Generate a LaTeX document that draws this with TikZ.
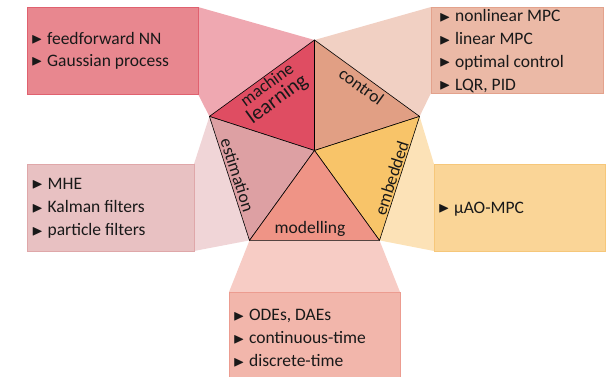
\documentclass[tikz,border=0pt]{standalone}
\usepackage{fontspec}
\setmainfont{Carlito}
\usepackage{amssymb}
\definecolor{mlT}{HTML}{DF4D62}
\definecolor{mlZ}{HTML}{EFA8B1}
\definecolor{mlB}{HTML}{E8878F}
\definecolor{mlD}{HTML}{E0616F}
\definecolor{ctT}{HTML}{E19F84}
\definecolor{ctZ}{HTML}{F1D0C3}
\definecolor{ctB}{HTML}{EBB9A6}
\definecolor{ctD}{HTML}{E3A28C}
\definecolor{esT}{HTML}{DDA0A3}
\definecolor{esZ}{HTML}{F0D5D7}
\definecolor{esB}{HTML}{E8C1C2}
\definecolor{esD}{HTML}{DFA7A9}
\definecolor{emT}{HTML}{F8C469}
\definecolor{emZ}{HTML}{FCE2B7}
\definecolor{emB}{HTML}{FAD597}
\definecolor{emD}{HTML}{F6C77A}
\definecolor{moT}{HTML}{EF9486}
\definecolor{moZ}{HTML}{F7CCC5}
\definecolor{moB}{HTML}{F2B6AB}
\definecolor{moD}{HTML}{EC9C90}
\newcommand{\tribul}{\raisebox{0.02em}{\scalebox{0.85}{$\blacktriangleright$}}\hspace{0.25em}}
\begin{document}
\begin{tikzpicture}[x=1pt,y=-1pt,
  wedge/.style={fill=#1, draw=black, line width=0.6pt, line join=round},
  boxstyle/.style={line width=0.7pt},
  itemtext/.style={anchor=base west, inner sep=0pt, align=left, text=black!90},
  lab/.style={inner sep=0pt, align=center, font=\fontsize{17.5}{17.5}\selectfont, text=black!90}]
\useasboundingbox (0,0) rectangle (606,376);
\clip (0,0) rectangle (606,376);
% pentagon vertices
\coordinate (T) at (314.5,40);
\coordinate (L) at (209.4,116.4);
\coordinate (R) at (419.6,116.4);
\coordinate (BL) at (249.5,240.4);
\coordinate (BR) at (379.5,240.4);
\coordinate (C) at (314.5,150.5);
% box corners
\coordinate (mlA) at (27,7);   \coordinate (mlC) at (198,94);
\coordinate (ctA) at (431,7);  \coordinate (ctC) at (603,93);
\coordinate (esA) at (27,164); \coordinate (esC) at (194,251);
\coordinate (emA) at (434,164);\coordinate (emC) at (605.5,251);
\coordinate (moA) at (229,292);\coordinate (moC) at (400,382);
% trapezoids
\fill[mlZ] (mlC |- mlA) -- (T) -- (L) -- (mlC) -- cycle;
\fill[ctZ] (ctA) -- (T) -- (R) -- (ctA |- ctC) -- cycle;
\fill[esZ] (esC |- esA) -- (L) -- (BL) -- (esC) -- cycle;
\fill[emZ] (emA) -- (R) -- (BR) -- (emA |- emC) -- cycle;
\fill[moZ] (moA) -- (BL) -- (BR) -- (moC |- moA) -- cycle;
% boxes
\filldraw[boxstyle, fill=mlB, draw=mlD] (mlA) rectangle (mlC);
\filldraw[boxstyle, fill=ctB, draw=ctD] (ctA) rectangle (ctC);
\filldraw[boxstyle, fill=esB, draw=esD] (esA) rectangle (esC);
\filldraw[boxstyle, fill=emB, draw=emD] (emA) rectangle (emC);
\filldraw[boxstyle, fill=moB, draw=moD] (moA) rectangle (moC);
% wedges
\draw[wedge=mlT] (C) -- (T) -- (L) -- cycle;
\draw[wedge=ctT] (C) -- (T) -- (R) -- cycle;
\draw[wedge=esT] (C) -- (L) -- (BL) -- cycle;
\draw[wedge=emT] (C) -- (R) -- (BR) -- cycle;
\draw[wedge=moT] (C) -- (BL) -- (BR) -- cycle;
% wedge labels
\node[lab, rotate=36] (mll) at (273,93) {machine\\[0.5pt]{\fontsize{21}{21}\selectfont learning}};
\node[lab, rotate=-36] (ctl) at (361.5,86.5) {control};
\node[lab, rotate=-72] (esl) at (237.5,175) {estimation};
\node[lab, rotate=72] (eml) at (391.5,178) {embedded};
\node[lab] (mol) at (310,229) {modelling};
% box texts (anchor = baseline of the last line)
\node[itemtext, font=\fontsize{17.5}{21.7}\selectfont] (mlt) at (31,66)
  {\tribul feedforward NN\\\tribul Gaussian process};
\node[itemtext, font=\fontsize{17.5}{22.8}\selectfont] (ctt) at (439,90.1)
  {\tribul nonlinear MPC\\\tribul linear MPC\\\tribul optimal control\\\tribul LQR, PID};
\node[itemtext, font=\fontsize{17.5}{23.3}\selectfont] (est) at (31.5,235.9)
  {\tribul MHE\\\tribul Kalman filters\\\tribul particle filters};
\node[itemtext, font=\fontsize{17.5}{22}\selectfont] (emt) at (438,213.3)
  {\tribul µAO-MPC};
\node[itemtext, font=\fontsize{17.5}{23}\selectfont] (mot) at (233,366.7)
  {\tribul ODEs, DAEs\\\tribul continuous-time\\\tribul discrete-time};
\end{tikzpicture}
\end{document}
